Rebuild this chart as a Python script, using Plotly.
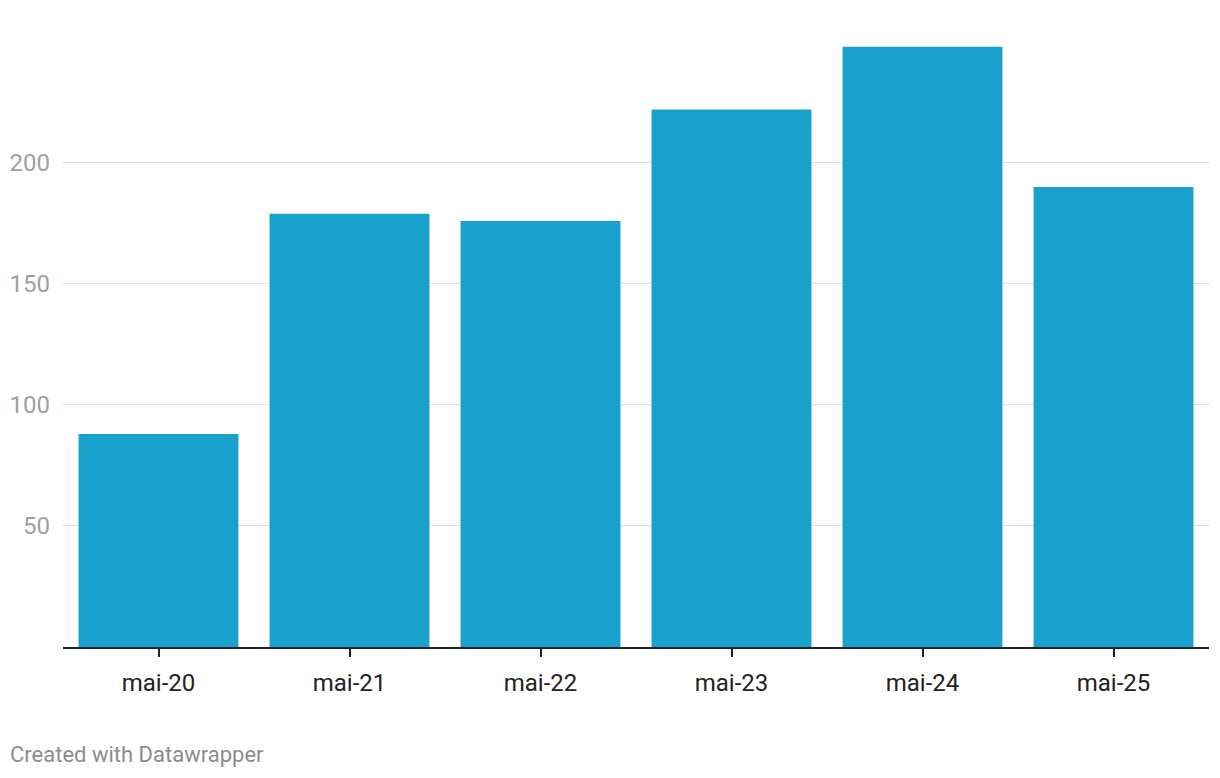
import plotly.graph_objects as go

categories = ["mai-20", "mai-21", "mai-22", "mai-23", "mai-24", "mai-25"]
values = [88, 179, 176, 222, 248, 190]
y_ticks = [50, 100, 150, 200]

fig = go.Figure(go.Bar(
    x=categories, y=values,
    marker=dict(color="#18a1cd", line=dict(width=0)),
    hoverinfo="x+y",
))

fig.update_layout(
    width=1220, height=778,
    margin=dict(l=55, r=19, t=12, b=139),
    paper_bgcolor="white", plot_bgcolor="white",
    bargap=0.163,
    showlegend=False,
    font=dict(family="Roboto", color="#333333"),
    xaxis=dict(
        type="category", automargin=False,
        showline=True, linecolor="#222222", linewidth=2,
        ticks="outside", ticklen=8, tickwidth=2, tickcolor="#222222",
        tickfont=dict(size=24, color="#222222", family="Roboto"),
        showgrid=False, zeroline=False,
        ticklabelstandoff=5,
    ),
    yaxis=dict(
        range=[0, 259], automargin=False,
        tickvals=y_ticks,
        showgrid=True, gridcolor="#dedede", gridwidth=1,
        zeroline=False, showline=False, ticks="",
        tickfont=dict(size=24, color="#a0a0a0", family="Roboto"),
        ticklabelstandoff=12,
    ),
    annotations=[dict(
        text="Created with Datawrapper",
        xref="paper", yref="paper", x=-55/1146, y=-107/627,
        xanchor="left", yanchor="middle", showarrow=False,
        font=dict(size=22, color="#8c8c8c", family="Roboto"),
    )],
)

fig.write_html("out.html")
